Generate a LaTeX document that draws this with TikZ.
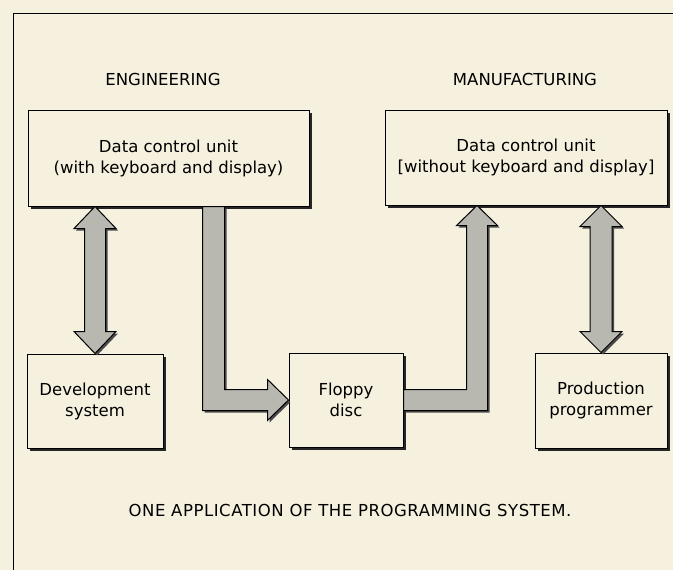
\documentclass[tikz,border=0pt]{standalone}
\usepackage{fontspec}
\setmainfont{DejaVu Sans}
\usetikzlibrary{calc,shadows}
\definecolor{paper}{HTML}{F6F1DF}
\definecolor{arrowgray}{HTML}{B9B8B0}
\tikzset{
  blockbox/.style={draw=black, line width=1pt, fill=paper, inner sep=0pt,
    align=center, font=\fontsize{16.5}{21}\selectfont,
    drop shadow={shadow xshift=3pt, shadow yshift=-3pt, opacity=1, fill=black!85}},
  fatarrow/.style={draw=black, line width=1pt, fill=arrowgray, line join=miter,
    drop shadow={shadow xshift=2pt, shadow yshift=-2pt, opacity=1, fill=black!70}},
  label/.style={font=\fontsize{16.5}{21}\selectfont, inner sep=0pt},
  frameline/.style={draw=black, line width=1pt}
}
\begin{document}
\begin{tikzpicture}[x=1pt,y=-1pt]
\useasboundingbox (0,0) rectangle (673,570);
\fill[paper] (0,0) rectangle (673,570);
% frame
\coordinate (ftr) at (673,13);
\coordinate (ftl) at (13,13);
\coordinate (fbl) at (13,570);
\draw[frameline] (ftr) -- (ftl) -- (fbl);
% headings
\node[label] (eng) at (163,79) {ENGINEERING};
\node[label] (man) at (525,79) {MANUFACTURING};
% boxes
\node[blockbox, minimum width=281pt, minimum height=96pt] (dcu1) at (168.5,158) {Data control unit\\(with keyboard and display)};
\node[blockbox, minimum width=282pt, minimum height=95pt] (dcu2) at (526,157.5) {Data control unit\\\relax[without keyboard and display]};
\node[blockbox, minimum width=136pt, minimum height=94pt] (dev) at (95,401) {Development\\system};
\node[blockbox, minimum width=114pt, minimum height=94pt] (flop) at (346,400) {Floppy\\disc};
\node[blockbox, minimum width=132pt, minimum height=95pt] (prod) at (601,400.5) {Production\\programmer};
% caption
\node[label] (cap) at (350,510) {\addfontfeature{LetterSpace=3.3}ONE APPLICATION OF THE PROGRAMMING SYSTEM.};
% arrow dcu1 <-> dev
\coordinate (a1t) at (dcu1.south -| dev.north);
\coordinate (a1b) at (dev.north);
\path[fatarrow] (a1t) -- ($(a1t)+(21,22)$) -- ($(a1t)+(10.5,22)$) -- ($(a1b)+(10.5,-22)$)
  -- ($(a1b)+(21,-22)$) -- (a1b) -- ($(a1b)+(-21,-22)$) -- ($(a1b)+(-10.5,-22)$)
  -- ($(a1t)+(-10.5,22)$) -- ($(a1t)+(-21,22)$) -- cycle;
% arrow dcu2 <-> prod
\coordinate (a4t) at (dcu2.south -| prod.north);
\coordinate (a4b) at (prod.north);
\path[fatarrow] (a4t) -- ($(a4t)+(21,21)$) -- ($(a4t)+(11,21)$) -- ($(a4b)+(11,-21)$)
  -- ($(a4b)+(21,-21)$) -- (a4b) -- ($(a4b)+(-21,-21)$) -- ($(a4b)+(-11,-21)$)
  -- ($(a4t)+(-11,21)$) -- ($(a4t)+(-21,21)$) -- cycle;
% arrow dcu1 -> floppy
\coordinate (a2s) at ($(dcu1.south west)+(186,0)$);
\coordinate (a2e) at (flop.west);
\path[fatarrow] ($(a2s)+(-11,0)$) -- ($(a2s|-a2e)+(-11,10.5)$) -- ($(a2e)+(-21,10.5)$)
  -- ($(a2e)+(-21,20.5)$) -- (a2e) -- ($(a2e)+(-21,-20.5)$) -- ($(a2e)+(-21,-10.5)$)
  -- ($(a2s|-a2e)+(11,-10.5)$) -- ($(a2s)+(11,0)$) -- cycle;
% arrow floppy -> dcu2
\coordinate (a3s) at (flop.east);
\coordinate (a3e) at ($(dcu2.south west)+(92.5,0)$);
\path[fatarrow] ($(a3s)+(0,-10.5)$) -- ($(a3e|-a3s)+(-10.5,-10.5)$) -- ($(a3e)+(-10.5,20)$)
  -- ($(a3e)+(-20.5,20)$) -- (a3e) -- ($(a3e)+(20.5,20)$) -- ($(a3e)+(10.5,20)$)
  -- ($(a3e|-a3s)+(10.5,10.5)$) -- ($(a3s)+(0,10.5)$) -- cycle;
\end{tikzpicture}
\end{document}
